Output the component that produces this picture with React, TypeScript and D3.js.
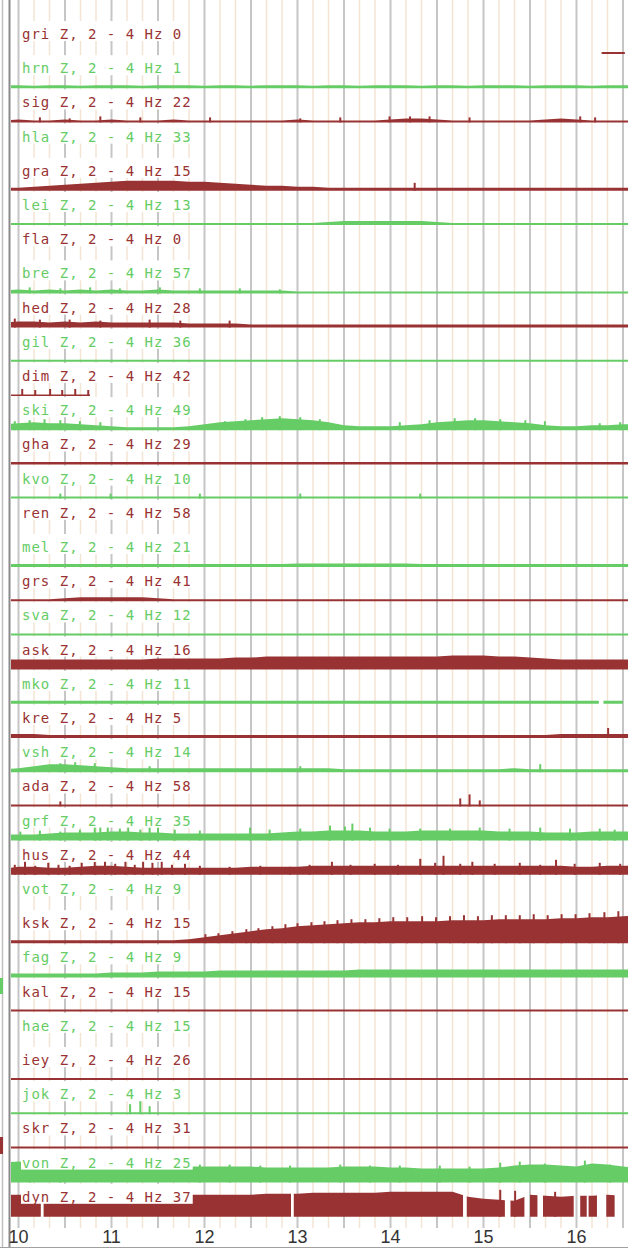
import React, { useEffect, useRef } from "react";
import * as d3 from "d3";

const stations = ["gri", "hrn", "sig", "hla", "gra", "lei", "fla", "bre", "hed", "gil", "dim", "ski", "gha", "kvo", "ren", "mel", "grs", "sva", "ask", "mko", "kre", "vsh", "ada", "grf", "hus", "vot", "ksk", "fag", "kal", "hae", "iey", "jok", "skr", "von", "dyn"];
const counts = [0, 1, 22, 33, 15, 13, 0, 57, 28, 36, 42, 49, 29, 10, 58, 21, 41, 12, 16, 11, 5, 14, 58, 35, 44, 9, 15, 9, 15, 15, 26, 3, 31, 25, 37];
const hourTicks = [10, 11, 12, 13, 14, 15, 16];

// tremor level, 10 minute steps starting 09:50
const gri = [2, 2, 2, 2, 2, 2, 2, 2, 2, 2, 2, 2, 2, 2, 2, 2, 2, 2, 2, 2, 2, 2, 2, 2, 2, 2, 2, 2, 2, 2, 2, 2, 2, 2, 2, 2, 2, 2, 2, 2, 2, 2];
const hrn = [3, 3, 2.5, 3, 3, 2.5, 3, 3, 3, 2.5, 3, 3, 3, 2.5, 3, 3, 2.5, 3, 3, 3, 2.5, 3, 3, 2.5, 3, 3, 3, 2.5, 3, 3, 2.5, 3, 3, 3, 2.5, 3, 3, 3, 2.5, 3, 3, 3];
const sig = [2, 3, 2, 2, 3, 2, 2, 3, 2, 2, 2, 3, 2, 2, 2, 2, 2, 2, 2, 3, 2, 2, 2, 2, 2, 3, 4, 4, 3, 2, 2, 2, 2, 2, 2, 3, 4, 3, 2, 2, 2, 2];
const hla = [2, 2, 2, 2, 2, 2, 2, 2, 2, 2, 2, 2, 2, 2, 2, 2, 2, 2, 2, 2, 2, 2, 2, 2, 2, 2, 2, 2, 2, 2, 2, 2, 2, 2, 2, 2, 2, 2, 2, 2, 2, 2];
const gra = [3, 3, 4, 5, 6, 7, 8, 9, 10, 10, 10, 10, 9, 9, 8, 7, 6, 5, 5, 4, 4, 3, 3, 3, 3, 3, 3, 3, 3, 3, 3, 3, 3, 3, 3, 3, 3, 3, 3, 3, 3, 3];
const lei = [2, 2, 2, 2, 2, 2, 2, 2, 2, 2, 2, 2, 2, 2, 2, 2, 2, 2, 2, 2, 2, 3, 4, 4, 4, 4, 4, 4, 3, 2, 2, 2, 2, 2, 2, 2, 2, 2, 2, 2, 2, 2];
const fla = [0, 0, 0, 0, 0, 0, 0, 0, 0, 0, 0, 0, 0, 0, 0, 0, 0, 0, 0, 0, 0, 0, 0, 0, 0, 0, 0, 0, 0, 0, 0, 0, 0, 0, 0, 0, 0, 0, 0, 0, 0, 0];
const bre = [3, 4, 3, 4, 3, 4, 3, 4, 3, 3, 4, 3, 3, 3, 3, 3, 3, 3, 3, 2, 2, 2, 2, 2, 2, 2, 2, 2, 2, 2, 2, 2, 2, 2, 2, 2, 2, 2, 2, 2, 2, 2];
const hed = [5, 6, 6, 5, 6, 5, 6, 5, 5, 5, 5, 5, 4, 4, 4, 4, 3, 3, 3, 3, 3, 3, 3, 3, 3, 3, 3, 3, 3, 3, 3, 3, 3, 3, 3, 3, 3, 3, 3, 3, 3, 3];
const gil = [2, 2, 2, 2, 2, 2, 2, 2, 2, 2, 2, 2, 2, 2, 2, 2, 2, 2, 2, 2, 2, 2, 2, 2, 2, 2, 2, 2, 2, 2, 2, 2, 2, 2, 2, 2, 2, 2, 2, 2, 2, 2];
const dim = [1.5, 1.5, 1.5, 1.5, 1.5, 1.5, 1.5, 1.5, 1.5, 1.5, 1.5, 1.5, 1.5, 1.5, 1.5, 1.5, 1.5, 1.5, 1.5, 1.5, 1.5, 1.5, 1.5, 1.5, 1.5, 1.5, 1.5, 1.5, 1.5, 1.5, 1.5, 1.5, 1.5, 1.5, 1.5, 1.5, 1.5, 1.5, 1.5, 1.5, 1.5, 1.5];
const ski = [6, 7, 8, 7, 7, 6, 5, 4, 3, 3, 3, 3, 4, 6, 8, 9, 10, 11, 12, 11, 10, 8, 5, 4, 4, 4, 5, 6, 8, 9, 10, 10, 9, 8, 7, 5, 4, 4, 5, 5, 6, 6];
const gha = [2.5, 2.5, 2.5, 2.5, 2.5, 2.5, 2.5, 2.5, 2.5, 2.5, 2.5, 2.5, 2.5, 2.5, 2.5, 2.5, 2.5, 2.5, 2.5, 2.5, 2.5, 2.5, 2.5, 2.5, 2.5, 2.5, 2.5, 2.5, 2.5, 2.5, 2.5, 2.5, 2.5, 2.5, 2.5, 2.5, 2.5, 2.5, 2.5, 2.5, 2.5, 2.5];
const kvo = [2, 2, 2, 2, 2, 2, 2, 2, 2, 2, 2, 2, 2, 2, 2, 2, 2, 2, 2, 2, 2, 2, 2, 2, 2, 2, 2, 2, 2, 2, 2, 2, 2, 2, 2, 2, 2, 2, 2, 2, 2, 2];
const ren = [2, 2, 2, 2, 2, 2, 2, 2, 2, 2, 2, 2, 2, 2, 2, 2, 2, 2, 2, 2, 2, 2, 2, 2, 2, 2, 2, 2, 2, 2, 2, 2, 2, 2, 2, 2, 2, 2, 2, 2, 2, 2];
const mel = [3, 3, 3, 3, 3, 3, 3, 3, 3, 3, 3, 3, 3, 3, 3, 3, 3, 3, 3, 3.5, 3.5, 3.5, 3.5, 3.5, 3.5, 3.5, 3.5, 3, 3, 3, 3, 3, 3, 3, 3, 3, 3, 3, 3, 3, 3, 3];
const grs = [2, 2, 2, 2, 3, 4, 4, 4, 4, 4, 3, 2, 2, 2, 2, 2, 2, 2, 2, 2, 2, 2, 2, 2, 2, 2, 2, 2, 2, 2, 2, 2, 2, 2, 2, 2, 2, 2, 2, 2, 2, 2];
const sva = [2, 2, 2, 2, 2, 2, 2, 2, 2, 2, 2, 2, 2, 2, 2, 2, 2, 2, 2, 2, 2, 2, 2, 2, 2, 2, 2, 2, 2, 2, 2, 2, 2, 2, 2, 2, 2, 2, 2, 2, 2, 2];
const ask = [10, 10, 10, 10, 10, 10, 10, 10, 10, 10, 11, 11, 11, 11, 11, 12, 12, 13, 13, 13, 13, 13, 13, 13, 13, 13, 13, 13, 13, 14, 14, 14, 13, 13, 12, 11, 10, 10, 10, 10, 10, 10];
const mko = [3, 3, 3, 3, 3, 3, 3, 3, 3, 3, 3, 3, 3, 3, 3, 3, 3, 3, 3, 3, 3, 3, 3, 3, 3, 3, 3, 3, 3, 3, 3, 3, 3, 3, 3, 3, 3, 3, 3, 3, 3, 3];
const kre = [4, 4, 4, 3, 3, 3, 3, 3, 3, 3, 3, 3, 3, 3, 3, 3, 3, 3, 3, 3, 3, 3, 3, 3, 3, 3, 3, 3, 3, 3, 3, 3, 3, 3, 3, 3, 4, 4, 4, 4, 4, 4];
const vsh = [3, 4, 6, 8, 8, 7, 6, 5, 4, 4, 4, 4, 4, 4, 4, 4, 4, 4, 4, 4, 4, 4, 3, 3, 3, 3, 3, 3, 3, 3, 3, 3, 3, 4, 3, 3, 3, 3, 3, 3, 3, 3];
const ada = [2, 2, 2, 2, 2, 2, 2, 2, 2, 2, 2, 2, 2, 2, 2, 2, 2, 2, 2, 2, 2, 2, 2, 2, 2, 2, 2, 2, 2, 2, 2, 2, 2, 2, 2, 2, 2, 2, 2, 2, 2, 2];
const grf = [6, 6, 6, 7, 8, 8, 8, 9, 9, 8, 8, 7, 7, 7, 7, 7, 7, 7, 8, 9, 9, 10, 10, 10, 9, 9, 9, 10, 10, 10, 10, 10, 9, 9, 9, 8, 8, 8, 9, 9, 9, 9];
const hus = [6, 8, 8, 7, 7, 8, 9, 9, 8, 7, 7, 7, 7, 7, 7, 7, 8, 8, 8, 8, 9, 9, 9, 9, 9, 9, 9, 9, 9, 9, 9, 9, 9, 9, 9, 9, 9, 8, 8, 9, 9, 9];
const vot = [2, 2, 2, 2, 2, 2, 2, 2, 2, 2, 2, 2, 2, 2, 2, 2, 2, 2, 2, 2, 2, 2, 2, 2, 2, 2, 2, 2, 2, 2, 2, 2, 2, 2, 2, 2, 2, 2, 2, 2, 2, 2];
const ksk = [3, 3, 3, 3, 3, 3, 3, 3, 3, 3, 3, 3, 4, 6, 8, 10, 12, 14, 15, 17, 18, 19, 20, 21, 21, 22, 22, 22, 22, 23, 23, 23, 24, 24, 24, 24, 25, 25, 26, 26, 27, 28];
const fag = [4, 4, 4, 4, 4, 4, 4, 5, 5, 5, 6, 6, 6, 6, 7, 7, 7, 7, 7, 7, 7, 7, 7, 8, 8, 8, 8, 8, 8, 8, 8, 8, 8, 8, 8, 8, 8, 8, 8, 8, 8, 8];
const kal = [2, 2, 2, 2, 2, 2, 2, 2, 2, 2, 2, 2, 2, 2, 2, 2, 2, 2, 2, 2, 2, 2, 2, 2, 2, 2, 2, 2, 2, 2, 2, 2, 2, 2, 2, 2, 2, 2, 2, 2, 2, 2];
const hae = [2, 2, 2, 2, 2, 2, 2, 2, 2, 2, 2, 2, 2, 2, 2, 2, 2, 2, 2, 2, 2, 2, 2, 2, 2, 2, 2, 2, 2, 2, 2, 2, 2, 2, 2, 2, 2, 2, 2, 2, 2, 2];
const iey = [2, 2, 2, 2, 2, 2, 2, 2, 2, 2, 2, 2, 2, 2, 2, 2, 2, 2, 2, 2, 2, 2, 2, 2, 2, 2, 2, 2, 2, 2, 2, 2, 2, 2, 2, 2, 2, 2, 2, 2, 2, 2];
const jok = [2, 2, 2, 2, 2, 2, 2, 2, 2, 2, 2, 2, 2, 2, 2, 2, 2, 2, 2, 2, 2, 2, 2, 2, 2, 2, 2, 2, 2, 2, 2, 2, 2, 2, 2, 2, 2, 2, 2, 2, 2, 2];
const skr = [2, 2, 2, 2, 2, 2, 2, 2, 2, 2, 2, 2, 2, 2, 2, 2, 2, 2, 2, 2, 2, 2, 2, 2, 2, 2, 2, 2, 2, 2, 2, 2, 2, 2, 2, 2, 2, 2, 2, 2, 2, 2];
const von = [20, 21, 20, 19, 18, 18, 17, 17, 17, 16, 16, 16, 16, 16, 16, 16, 16, 15, 15, 15, 15, 15, 16, 16, 16, 15, 15, 14, 14, 14, 14, 14, 15, 17, 18, 18, 17, 16, 19, 18, 16, 15];
const dyn = [22, 22, 22, 22, 22, 22, 22, 22, 22, 22, 22, 22, 22, 22, 22, 22, 22, 23, 23, 23, 24, 24, 24, 24, 24, 25, 25, 25, 25, 25, 20, 18, 17, 16, 22, 21, 20, 21, 21, 22, 21, 21];

const levels = [gri, hrn, sig, hla, gra, lei, fla, bre, hed, gil, dim, ski, gha, kvo, ren, mel, grs, sva, ask, mko, kre, vsh, ada, grf, hus, vot, ksk, fag, kal, hae, iey, jok, skr, von, dyn];

// hours with data per station
const full = [[9.8, 16.6]];
const ranges = {
  gri: [[16.27, 16.52]],
  hla: [],
  fla: [],
  dim: [[9.8, 10.77]],
  ren: [],
  vot: [],
  hae: [],
  mko: [[9.8, 16.24], [16.29, 16.5]],
  dyn: [[9.8, 10.24], [10.27, 12.93], [12.96, 14.78], [14.82, 15.23], [15.29, 15.44], [15.5, 15.58], [15.64, 15.97], [16.04, 16.11], [16.13, 16.22], [16.32, 16.41]],
};

// short bursts [hour, level]
const spikes = {
  sig: [[10.23, 5], [10.55, 4], [10.88, 6], [11.31, 5], [12.06, 5], [13.03, 4], [13.46, 5], [13.99, 6], [14.21, 6], [14.42, 6], [14.85, 5], [16.04, 6], [16.2, 5]],
  gra: [[14.26, 8]],
  bre: [[10.12, 6], [10.45, 5], [10.77, 6], [11.09, 5], [11.52, 6], [11.95, 5], [12.38, 5], [12.81, 4]],
  hed: [[9.96, 9], [10.23, 8], [10.55, 8], [10.88, 7], [11.41, 8], [11.74, 7], [12.27, 7]],
  dim: [[10.04, 7], [10.18, 6], [10.34, 7], [10.47, 6], [10.61, 7], [10.75, 6]],
  ski: [[9.96, 9], [10.12, 10], [10.28, 11], [10.45, 10], [10.66, 9], [10.88, 8], [12.22, 9], [12.44, 11], [12.62, 13], [12.81, 14], [13.03, 13], [13.24, 11], [14.1, 8], [14.42, 10], [14.69, 12], [14.91, 12], [15.18, 11], [15.45, 10], [15.66, 9], [16.25, 7], [16.47, 8]],
  kvo: [[10.45, 5], [10.99, 5], [11.95, 5], [13.03, 5], [14.32, 5]],
  kre: [[16.34, 10]],
  vsh: [[10.45, 9], [10.61, 10], [10.82, 9], [11.41, 6], [13.03, 6], [15.61, 8]],
  ada: [[10.45, 5], [14.75, 8], [14.85, 12], [14.96, 6]],
  grf: [[10.02, 9], [10.23, 10], [10.45, 9], [10.66, 11], [10.82, 18], [10.88, 14], [10.96, 16], [11.09, 12], [11.18, 14], [11.31, 11], [11.41, 20], [11.5, 13], [11.68, 11], [11.95, 10], [12.49, 13], [12.7, 11], [13.03, 12], [13.35, 15], [13.51, 14], [13.59, 17], [13.78, 13], [13.99, 12], [14.32, 12], [14.64, 12], [14.96, 13], [15.28, 12], [15.61, 13], [15.93, 12], [16.25, 12], [16.41, 11]],
  hus: [[9.96, 10], [10.07, 14], [10.18, 9], [10.32, 12], [10.43, 10], [10.55, 9], [10.68, 12], [10.82, 13], [10.93, 18], [11.04, 11], [11.15, 15], [11.25, 10], [11.34, 17], [11.44, 12], [11.54, 14], [11.65, 10], [11.79, 11], [11.95, 9], [12.27, 8], [12.6, 9], [12.92, 8], [13.13, 10], [13.37, 13], [13.57, 10], [13.83, 11], [14.08, 10], [14.32, 16], [14.48, 12], [14.57, 19], [14.75, 11], [14.88, 13], [15.12, 11], [15.39, 12], [15.61, 10], [15.78, 15], [15.98, 11], [16.25, 12], [16.47, 11]],
  ksk: [[12.01, 9], [12.15, 10], [12.3, 12], [12.45, 14], [12.58, 15], [12.73, 17], [12.87, 19], [13.0, 20], [13.15, 21], [13.29, 22], [13.43, 23], [13.58, 24], [13.73, 24], [13.88, 25], [14.03, 26], [14.18, 26], [14.34, 27], [14.49, 26], [14.64, 27], [14.79, 28], [14.94, 27], [15.09, 28], [15.24, 28], [15.39, 28], [15.54, 29], [15.69, 28], [15.84, 29], [15.99, 29], [16.14, 30], [16.3, 31], [16.45, 32]],
  jok: [[11.2, 10], [11.31, 14], [11.41, 8]],
  von: [[10.12, 22], [10.45, 21], [11.95, 18], [12.27, 18], [12.6, 17], [12.92, 17], [13.46, 18], [13.78, 17], [14.1, 17], [14.53, 17], [14.85, 16], [15.18, 20], [15.39, 21], [15.66, 19], [16.09, 22], [16.36, 18]],
  dyn: [[15.18, 27], [15.34, 26], [15.77, 25]],
};

const RED = "#993333";
const GREEN = "#66cc66";

const TremorChart = () => {
  const ref = useRef(null);
  const size = { width: 628, height: 1248 };

  useEffect(() => {
    const svg = d3.select(ref.current);
    svg.selectAll("*").remove();
    svg.attr("width", size.width).attr("height", size.height).style("background", "#fff");

    const x = d3.scaleLinear().domain([10, 11]).range([18.5, 111.5]);
    const rowY = d3.scaleLinear().domain([0, 1]).range([54, 88.2]);
    const t0 = 9 + 50 / 60;
    const step = 10 / 60;

    // grid, every 10 minutes, darker every half hour
    const gridTimes = d3.range(0, 40).map((k) => 10 + k / 6);
    svg.append("g")
      .selectAll("line")
      .data(gridTimes)
      .join("line")
      .attr("x1", (d) => x(d))
      .attr("x2", (d) => x(d))
      .attr("y1", 0)
      .attr("y2", 1228)
      .attr("stroke", (d, i) => (i % 3 === 0 ? "#c6c6c6" : "#f4e4d4"))
      .attr("stroke-width", (d, i) => (i % 3 === 0 ? 2 : 1.5));

    const defs = svg.append("defs");
    const traces = svg.append("g");

    stations.forEach((name, i) => {
      const base = rowY(i);
      const color = i % 2 === 0 ? RED : GREEN;
      const y = d3.scaleLinear().domain([0, 10]).range([base, base - 10]);
      const rr = ranges[name] || full;

      const clip = defs.append("clipPath").attr("id", "clip-" + name);
      clip.selectAll("rect")
        .data(rr)
        .join("rect")
        .attr("x", (d) => Math.max(11, x(d[0])))
        .attr("width", (d) => Math.max(0, x(d[1]) - Math.max(11, x(d[0]))))
        .attr("y", base - 34)
        .attr("height", 35);

      const g = traces.append("g").attr("clip-path", "url(#clip-" + name + ")");
      const pts = levels[i].map((v, k) => ({ t: t0 + k * step, v }));
      const area = d3.area()
        .x((d) => x(d.t))
        .y0(y(0))
        .y1((d) => y(d.v));
      g.append("path").datum(pts).attr("d", area).attr("fill", color);

      g.selectAll("rect")
        .data(spikes[name] || [])
        .join("rect")
        .attr("x", (d) => x(d[0]) - 1)
        .attr("width", 2)
        .attr("y", (d) => y(d[1]))
        .attr("height", (d) => y(0) - y(d[1]))
        .attr("fill", color);
    });

    // labels
    const labels = svg.append("g")
      .style("font-family", "'DejaVu Sans Mono', monospace")
      .style("font-size", "14px");
    stations.forEach((name, i) => {
      const base = rowY(i);
      const color = i % 2 === 0 ? RED : GREEN;
      const txt = name + " Z, 2 - 4 Hz " + counts[i];
      labels.append("rect")
        .attr("x", 21)
        .attr("y", base - 33)
        .attr("width", txt.length * 9.43 + 2)
        .attr("height", 20)
        .attr("fill", "#fff");
      labels.append("text")
        .attr("x", 22)
        .attr("y", base - 15)
        .attr("fill", color)
        .style("letter-spacing", "1px")
        .text(txt);
    });

    // left frame and bottom line
    svg.append("line").attr("x1", 2.5).attr("x2", 2.5).attr("y1", 0).attr("y2", 1248).attr("stroke", "#c0c0c0").attr("stroke-width", 1.5);
    svg.append("line").attr("x1", 9.5).attr("x2", 9.5).attr("y1", 0).attr("y2", 1248).attr("stroke", "#8a8a8a").attr("stroke-width", 2);
    svg.append("line").attr("x1", 0).attr("x2", 628).attr("y1", 1247.5).attr("y2", 1247.5).attr("stroke", "#a0a0a0").attr("stroke-width", 1);
    svg.append("rect").attr("x", 0).attr("y", 978).attr("width", 3).attr("height", 16).attr("fill", GREEN);
    svg.append("rect").attr("x", 0).attr("y", 1137).attr("width", 3).attr("height", 17).attr("fill", RED);

    svg.append("g")
      .selectAll("text")
      .data(hourTicks)
      .join("text")
      .attr("x", (d) => x(d))
      .attr("y", 1243)
      .attr("text-anchor", "middle")
      .attr("fill", "#333")
      .style("font-family", "'Liberation Sans', Arial, sans-serif")
      .style("font-size", "18px")
      .text((d) => d);
  }, []);

  return <svg ref={ref} style={{ display: "block" }}></svg>;
};

export default function App() {
  useEffect(() => {
    document.body.style.margin = "0";
  }, []);
  return (
    <div style={{ position: "absolute", left: 0, top: 0 }}>
      <TremorChart />
    </div>
  );
}
